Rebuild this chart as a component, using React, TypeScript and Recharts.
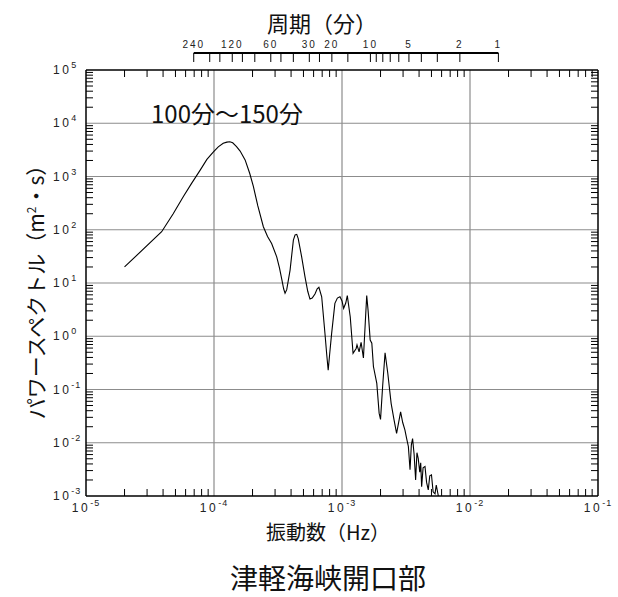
import { LineChart, Line, XAxis, YAxis, ReferenceLine } from 'recharts'

// frequency (Hz) and power spectrum (m²·s)
const freq = [
  2.0e-5, 3.9e-5, 4.8e-5, 5.75e-5, 6.7e-5, 7.8e-5, 8.8e-5, 9.9e-5, 1.08e-4, 1.18e-4,
  1.26e-4, 1.33e-4, 1.4e-4, 1.5e-4, 1.6e-4, 1.75e-4, 1.9e-4, 2.03e-4, 2.2e-4, 2.43e-4,
  2.62e-4, 2.82e-4, 3.09e-4, 3.25e-4, 3.38e-4, 3.5e-4, 3.59e-4, 3.7e-4, 3.93e-4, 4.17e-4,
  4.3e-4, 4.43e-4, 4.55e-4, 4.84e-4, 5.14e-4, 5.4e-4, 5.62e-4, 5.85e-4, 6.15e-4, 6.4e-4,
  6.6e-4, 6.94e-4, 7.36e-4, 7.6e-4, 7.8e-4, 8.0e-4, 8.3e-4, 8.8e-4, 9.2e-4, 9.64e-4,
  1.0e-3, 1.03e-3, 1.07e-3, 1.1e-3, 1.16e-3, 1.22e-3, 1.29e-3, 1.31e-3, 1.36e-3, 1.41e-3,
  1.47e-3, 1.52e-3, 1.56e-3, 1.6e-3, 1.66e-3, 1.71e-3, 1.76e-3, 1.87e-3, 1.95e-3, 2.0e-3,
  2.08e-3, 2.17e-3, 2.28e-3, 2.42e-3, 2.55e-3, 2.67e-3, 2.87e-3, 2.98e-3, 3.1e-3, 3.2e-3,
  3.3e-3, 3.4e-3, 3.48e-3, 3.56e-3, 3.66e-3, 3.76e-3, 3.85e-3, 3.94e-3, 4.05e-3, 4.12e-3,
  4.19e-3, 4.3e-3, 4.45e-3, 4.58e-3, 4.72e-3, 4.85e-3, 5.0e-3, 5.15e-3, 5.33e-3, 5.45e-3,
  5.66e-3,
]
const power = [
  20, 92, 200, 418, 750, 1320, 2100, 2900, 3600, 4200,
  4420, 4480, 4300, 3650, 3000, 2050, 1150, 650, 280, 114,
  75, 55, 31, 19, 12, 7.8, 6.4, 7.5, 17.5, 64,
  80, 82, 68, 31, 13, 7.0, 5.0, 5.2, 6.2, 7.8,
  8.3, 5.5, 1.13, 0.45, 0.23, 0.45, 1.13, 4.15, 5.2, 5.5,
  4.6, 3.35, 4.2, 5.8, 2.3, 0.48, 0.59, 0.69, 0.51, 0.77,
  0.39, 1.8, 5.8, 3.0, 0.85, 0.74, 0.27, 0.13, 0.036, 0.0275,
  0.12, 0.49, 0.2, 0.055, 0.027, 0.015, 0.038, 0.024, 0.0174, 0.012,
  0.0085, 0.0031, 0.009, 0.012, 0.006, 0.002, 0.0065, 0.0051, 0.0028, 0.0042,
  0.0015, 0.0034, 0.0036, 0.0018, 0.0013, 0.0024, 0.0025, 0.0012, 0.0011, 0.0016,
  0.001,
]

// period axis (minutes)
const periodTicks = [240, 180, 150, 120, 100, 80, 60, 50, 40, 30, 25, 20, 15, 10, 9, 8, 7, 6, 5, 4, 3, 2, 1]
const periodLabels = [240, 120, 60, 30, 20, 10, 5, 2, 1]

const xDecades = [1e-5, 1e-4, 1e-3, 1e-2, 1e-1]
const yDecades = [1e-3, 1e-2, 1e-1, 1, 1e1, 1e2, 1e3, 1e4, 1e5]

const W = 618
const H = 597
const PLOT_W = 512
const PLOT_H = 426
const FONT_JP = '"Noto Sans CJK JP", sans-serif'
const FONT_NUM = '"Liberation Sans", sans-serif'

const data = freq.map((f, i) => ({ f, p: power[i] }))

const withMinors = (decades: number[]) =>
  decades.flatMap((d, i) =>
    i === decades.length - 1 ? [d] : [1, 2, 3, 4, 5, 6, 7, 8, 9].map((m) => d * m)
  )

const xTicks = withMinors(xDecades)
const yTicks = withMinors(yDecades)
const periodFreqs = periodTicks.map((p) => 1 / (60 * p))

const isDecade = (v: number) => Math.abs(Math.log10(v) - Math.round(Math.log10(v))) < 1e-9

const Pow = ({ exp }: { exp: number }) => (
  <>
    <tspan letterSpacing={2.5}>10</tspan>
    <tspan dy={-6} fontSize={9} letterSpacing={1}>{exp < 0 ? `-${-exp}` : exp}</tspan>
  </>
)

const BottomTick = ({ x, y, payload }: any) => {
  const v = payload.value
  if (isDecade(v)) {
    return (
      <text x={x} y={y + 16} textAnchor="middle" fontSize={12} fontFamily={FONT_NUM} fill="#222">
        <Pow exp={Math.round(Math.log10(v))} />
      </text>
    )
  }
  return (
    <g stroke="#000" strokeWidth={1}>
      <line x1={x} x2={x} y1={y} y2={y - 7} />
      <line x1={x} x2={x} y1={y - PLOT_H} y2={y - PLOT_H + 7} />
    </g>
  )
}

const LeftTick = ({ x, y, payload }: any) => {
  const v = payload.value
  if (isDecade(v)) {
    return (
      <text x={x - 33} y={y + 4} textAnchor="start" fontSize={12} fontFamily={FONT_NUM} fill="#222">
        <Pow exp={Math.round(Math.log10(v))} />
      </text>
    )
  }
  return (
    <g stroke="#000" strokeWidth={1}>
      <line x1={x} x2={x + 7} y1={y} y2={y} />
      <line x1={x + PLOT_W} x2={x + PLOT_W - 7} y1={y} y2={y} />
    </g>
  )
}

const PeriodTick = ({ x, y, payload }: any) => {
  const minutes = Math.round(1 / (60 * payload.value))
  const lineLen = (Math.log10(periodTicks[0]) / 4) * PLOT_W
  return (
    <g>
      {payload.index === 0 && (
        <line x1={x} x2={x + lineLen} y1={y - 17} y2={y - 17} stroke="#000" strokeWidth={2} />
      )}
      <line x1={x} x2={x} y1={y - 17} y2={y - 8} stroke="#000" strokeWidth={1} />
      {periodLabels.includes(minutes) && (
        <text x={x} y={y - 22} textAnchor="middle" fontSize={10} letterSpacing={2} fontFamily={FONT_NUM} fill="#222">
          {minutes}
        </text>
      )}
    </g>
  )
}

export default function App() {
  return (
    <div style={{ position: 'absolute', left: 0, top: 0, width: W, height: H, background: '#fff' }}>
      <LineChart width={W} height={H} data={data} margin={{ top: 53, right: 20, bottom: 71, left: 26 }}>
        <XAxis
          dataKey="f"
          type="number"
          scale="log"
          domain={[1e-5, 1e-1]}
          allowDataOverflow
          ticks={xTicks}
          interval={0}
          tick={<BottomTick />}
          tickSize={0}
          tickMargin={0}
          tickLine={false}
          height={30}
          axisLine={{ stroke: '#000', strokeWidth: 1.5 }}
        />
        <XAxis
          xAxisId="period"
          orientation="top"
          dataKey="f"
          type="number"
          scale="log"
          domain={[1e-5, 1e-1]}
          allowDataOverflow
          ticks={periodFreqs}
          interval={0}
          tick={<PeriodTick />}
          tickSize={0}
          tickMargin={0}
          tickLine={false}
          axisLine={false}
          height={17}
        />
        <YAxis
          dataKey="p"
          type="number"
          scale="log"
          domain={[1e-3, 1e5]}
          allowDataOverflow
          ticks={yTicks}
          interval={0}
          tick={<LeftTick />}
          tickSize={0}
          tickMargin={0}
          tickLine={false}
          width={60}
          axisLine={{ stroke: '#000', strokeWidth: 1.5 }}
        />
        {xDecades.slice(1, -1).map((d) => (
          <ReferenceLine key={`gx-${d}`} x={d} stroke="#8c8c8c" strokeWidth={1.2} />
        ))}
        {yDecades.slice(1, -1).map((d) => (
          <ReferenceLine key={`gy-${d}`} y={d} stroke="#8c8c8c" strokeWidth={1.2} />
        ))}
        <ReferenceLine y={1e5} stroke="#000" strokeWidth={1.5} />
        <ReferenceLine x={1e-1} stroke="#000" strokeWidth={1.5} />
        <Line
          dataKey="p"
          type="linear"
          stroke="#000"
          strokeWidth={1.1}
          dot={false}
          isAnimationActive={false}
        />
      </LineChart>

      <div style={{ position: 'absolute', left: 222, top: 7, width: 200, textAlign: 'center', fontFamily: FONT_JP, fontSize: 22, lineHeight: '30px', color: '#111' }}>
        周期（分）
      </div>
      <div style={{ position: 'absolute', left: 151, top: 98, fontFamily: FONT_JP, fontSize: 24, lineHeight: '30px', color: '#111', whiteSpace: 'nowrap' }}>
        100分～150分
      </div>
      <div style={{ position: 'absolute', left: 228, top: 522, width: 200, textAlign: 'center', fontFamily: FONT_JP, fontSize: 20, lineHeight: '20px', color: '#111' }}>
        振動数（Hz）
      </div>
      <div
        style={{
          position: 'absolute', left: 33 - 150, top: 285 - 15, width: 300, textAlign: 'center',
          transform: 'rotate(-90deg)', fontFamily: FONT_JP, fontSize: 21, lineHeight: '30px', color: '#111', whiteSpace: 'nowrap',
        }}
      >
        パワースペクトル（m<sup style={{ fontSize: 12 }}>2</sup>・s）
      </div>
      <div style={{ position: 'absolute', left: 178, top: 560, width: 300, textAlign: 'center', fontFamily: FONT_JP, fontSize: 28, lineHeight: '34px', color: '#111' }}>
        津軽海峡開口部
      </div>
    </div>
  )
}
